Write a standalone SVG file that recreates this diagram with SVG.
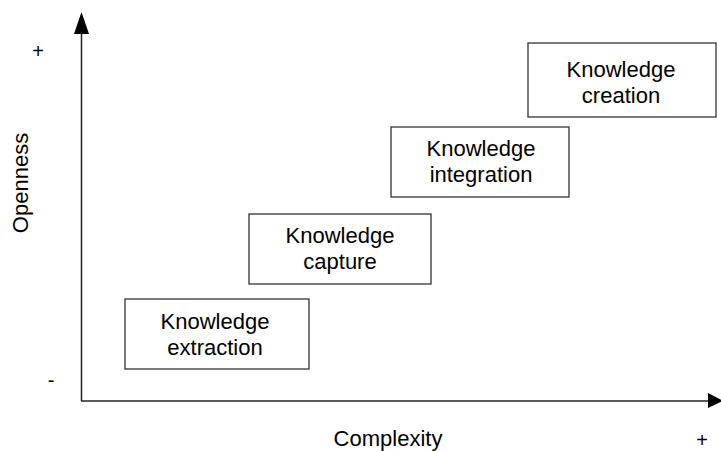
<svg xmlns="http://www.w3.org/2000/svg" width="721" height="451" viewBox="0 0 721 451">
<style>
text{font-family:"Liberation Sans",Arial,sans-serif;fill:#000}
.lbl{font-size:22px;text-anchor:middle}
.sign{font-size:20px;text-anchor:middle}
.box{fill:#fff;stroke:#333;stroke-width:1.3}
.axis{stroke:#222;stroke-width:1.5;fill:none}
</style>
<g id="axes">
<line class="axis" x1="81.5" y1="30" x2="81.5" y2="401"/>
<line class="axis" x1="81" y1="401" x2="710" y2="401" stroke="#555"/>
<polygon points="74,34 89,34 81.5,12" fill="#000"/>
<polygon points="708,393 708,408 723,400.7" fill="#000"/>
</g>
<g id="labels">
<text x="38" y="58" class="sign">+</text>
<text x="51" y="387" class="sign">-</text>
<text x="702" y="447" class="sign">+</text>
<text x="388" y="446" class="lbl">Complexity</text>
<text class="lbl" transform="translate(28,183) rotate(-90)">Openness</text>
</g>
<g id="extraction">
<rect class="box" x="125" y="299" width="184" height="70"/>
<text class="lbl" x="215" y="329">Knowledge</text>
<text class="lbl" x="215" y="355">extraction</text>
</g>
<g id="capture">
<rect class="box" x="249" y="214" width="182" height="70"/>
<text class="lbl" x="340" y="243">Knowledge</text>
<text class="lbl" x="340" y="269">capture</text>
</g>
<g id="integration">
<rect class="box" x="391" y="127" width="178" height="70"/>
<text class="lbl" x="481" y="156">Knowledge</text>
<text class="lbl" x="481" y="182">integration</text>
</g>
<g id="creation">
<rect class="box" x="528" y="43" width="188" height="74"/>
<text class="lbl" x="621" y="77">Knowledge</text>
<text class="lbl" x="621" y="103">creation</text>
</g>
</svg>
